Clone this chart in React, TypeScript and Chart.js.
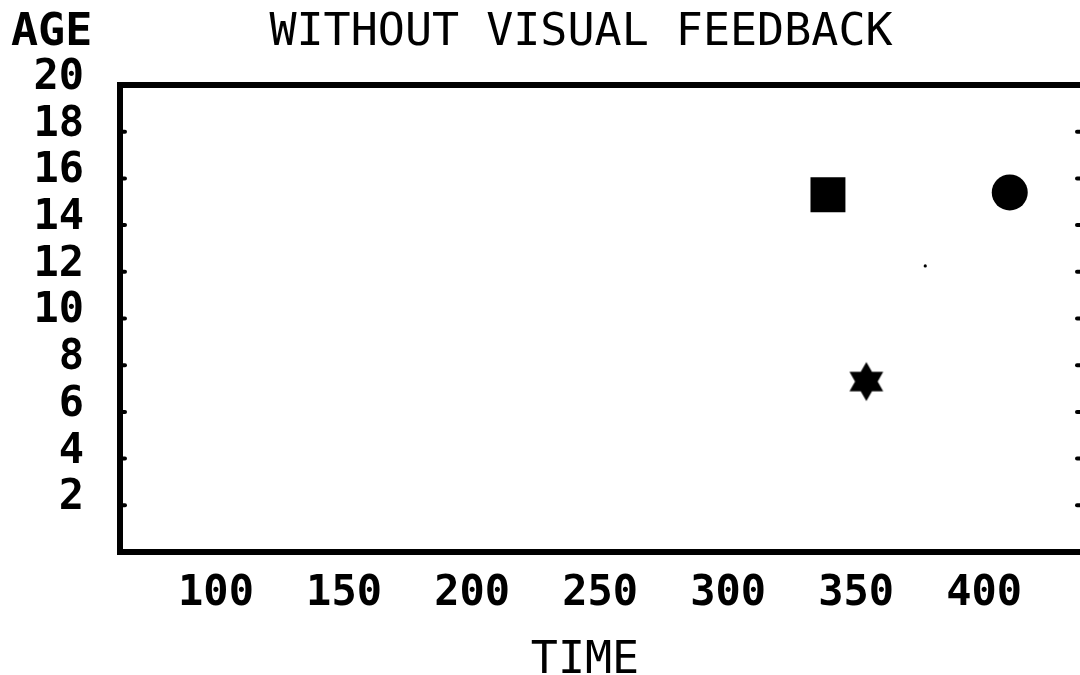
import React, { useEffect, useRef } from 'react';
import { Chart, registerables } from 'chart.js';

Chart.register(...registerables);

// ---- data ----
const CHART_TITLE = 'WITHOUT VISUAL FEEDBACK';
const Y_LABEL = 'AGE';
const X_LABEL = 'TIME';
const X_TICKS = [100, 150, 200, 250, 300, 350, 400];
const Y_TICKS = [2, 4, 6, 8, 10, 12, 14, 16, 18, 20];
const X_MIN = 62.5;
const X_MAX = 439;
const Y_MIN = 0;
const Y_MAX = 20;
const squarePoints = [{ x: 339, y: 15.3 }];
const circlePoints = [{ x: 410, y: 15.4 }];
const starPoints = [{ x: 354, y: 7.3 }];
const speckPoints = [{ x: 377, y: 12.25 }];

const FONT = "'DejaVu Sans Mono', monospace";

function makeHexagram(): HTMLCanvasElement {
  const c = document.createElement('canvas');
  c.width = 42;
  c.height = 42;
  const ctx = c.getContext('2d')!;
  const cx = 21, cy = 21, ro = 19.5, ri = 11.3;
  ctx.fillStyle = '#000';
  ctx.beginPath();
  for (let i = 0; i < 12; i++) {
    const r = i % 2 === 0 ? ro : ri;
    const a = -Math.PI / 2 + (i * Math.PI) / 6;
    const px = cx + r * Math.cos(a);
    const py = cy + r * Math.sin(a);
    if (i === 0) ctx.moveTo(px, py);
    else ctx.lineTo(px, py);
  }
  ctx.closePath();
  ctx.fill();
  return c;
}

const framePlugin = {
  id: 'frame',
  beforeDatasetsDraw(chart: any) {
    const { ctx, chartArea } = chart;
    const { left, right, top, bottom } = chartArea;
    const y = chart.scales.y;
    ctx.save();
    ctx.strokeStyle = '#000';
    ctx.lineWidth = 6;
    ctx.strokeRect(left, top, right - left, bottom - top);
    ctx.lineWidth = 4;
    ctx.lineCap = 'round';
    for (const v of Y_TICKS) {
      const py = y.getPixelForValue(v);
      ctx.beginPath();
      ctx.moveTo(left, py);
      ctx.lineTo(left + 5, py);
      ctx.stroke();
      ctx.beginPath();
      ctx.moveTo(right - 7, py);
      ctx.lineTo(right, py);
      ctx.stroke();
    }
    ctx.restore();
  },
};

const textPlugin = {
  id: 'texts',
  afterDraw(chart: any) {
    const { ctx } = chart;
    ctx.save();
    ctx.fillStyle = '#000';
    ctx.textBaseline = 'alphabetic';
    ctx.font = `bold 45px ${FONT}`;
    ctx.textAlign = 'left';
    ctx.fillText(Y_LABEL, 11, 45);
    ctx.font = `45px ${FONT}`;
    ctx.textAlign = 'center';
    ctx.fillText(CHART_TITLE, 581, 45);
    ctx.fillText(X_LABEL, 585, 673);
    ctx.restore();
  },
};

export default function App() {
  const ref = useRef<HTMLCanvasElement | null>(null);

  useEffect(() => {
    if (!ref.current) return;
    const star = makeHexagram();
    const chart = new Chart(ref.current, {
      type: 'scatter',
      data: {
        datasets: [
          {
            data: squarePoints,
            pointStyle: 'rect',
            pointRadius: 24.7,
            backgroundColor: '#000',
            borderWidth: 0,
          },
          {
            data: circlePoints,
            pointStyle: 'circle',
            pointRadius: 18,
            backgroundColor: '#000',
            borderWidth: 0,
          },
          {
            data: starPoints,
            pointStyle: star as any,
            pointRadius: 19,
            backgroundColor: '#000',
            borderWidth: 0,
          },
          {
            data: speckPoints,
            pointStyle: 'circle',
            pointRadius: 1.6,
            backgroundColor: '#000',
            borderWidth: 0,
          },
        ],
      },
      options: {
        animation: false,
        responsive: false,
        devicePixelRatio: 1,
        layout: { autoPadding: false, padding: { top: 85, right: 8, left: 0, bottom: 0 } },
        plugins: {
          legend: { display: false },
          tooltip: { enabled: false },
          title: { display: false },
        },
        scales: {
          x: {
            type: 'linear',
            min: X_MIN,
            max: X_MAX,
            grid: { display: false, drawTicks: false },
            border: { display: false },
            afterBuildTicks: (s: any) => {
              s.ticks = X_TICKS.map((v) => ({ value: v }));
            },
            afterFit: (s: any) => {
              s.height = 123;
              s.paddingLeft = 0;
              s.paddingRight = 0;
            },
            ticks: {
              color: '#000',
              padding: 17,
              maxRotation: 0,
              autoSkip: false,
              font: { family: FONT, size: 42, weight: 'bold' },
              callback: (v: any) => String(v),
            },
          },
          y: {
            type: 'linear',
            min: Y_MIN,
            max: Y_MAX,
            grid: { display: false, drawTicks: false },
            border: { display: false },
            afterBuildTicks: (s: any) => {
              s.ticks = Y_TICKS.map((v) => ({ value: v }));
            },
            afterFit: (s: any) => {
              s.width = 120;
              s.paddingTop = 0;
              s.paddingBottom = 0;
            },
            ticks: {
              color: '#000',
              padding: 36,
              labelOffset: -7,
              autoSkip: false,
              font: { family: FONT, size: 42, weight: 'bold' },
              callback: (v: any) => String(v),
            },
          },
        },
      },
      plugins: [framePlugin, textPlugin],
    });
    return () => chart.destroy();
  }, []);

  return (
    <div style={{ position: 'fixed', left: 0, top: 0, width: 1080, height: 675, background: '#fff', overflow: 'hidden' }}>
      <canvas ref={ref} width={1092} height={675} style={{ display: 'block' }} />
    </div>
  );
}
